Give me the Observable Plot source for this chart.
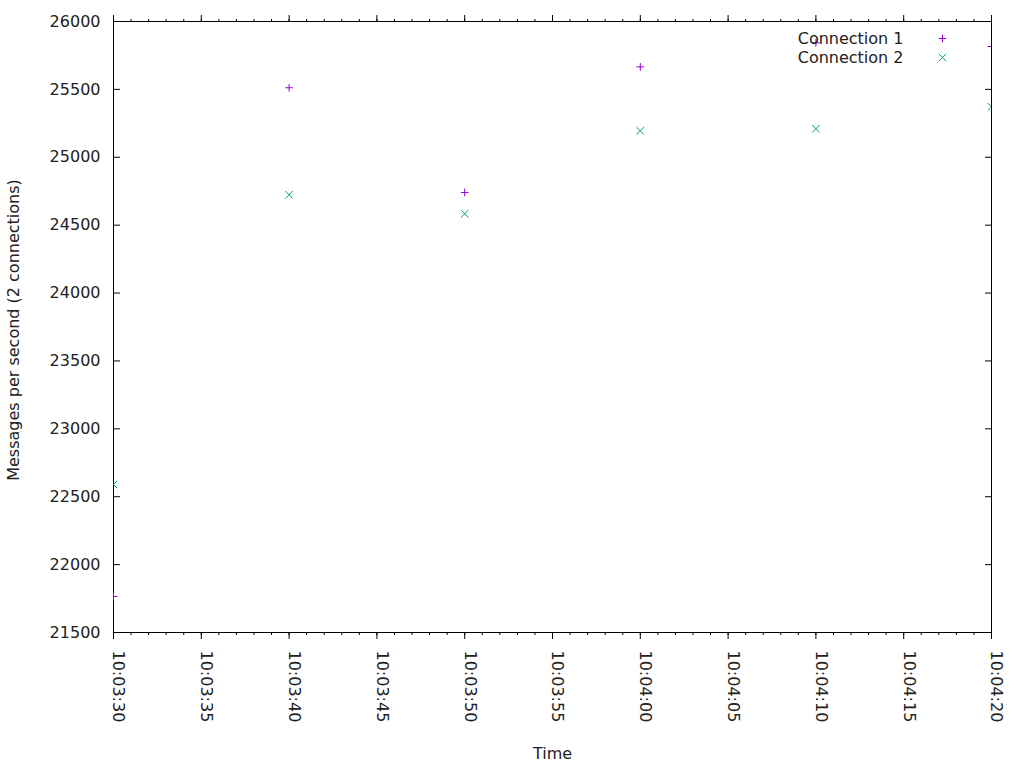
<!DOCTYPE html>
<html>
<head>
<meta charset="utf-8">
<script src="https://cdn.jsdelivr.net/npm/d3@7"></script>
<script src="https://cdn.jsdelivr.net/npm/@observablehq/plot@0.6"></script>
<style>
  html, body { margin: 0; padding: 0; background: #fff; }
  #chart { width: 1024px; height: 768px; }
</style>
</head>
<body>
<div id="chart"></div>
<script>
const times = ["10:03:30", "10:03:40", "10:03:50", "10:04:00", "10:04:10", "10:04:20"];
const conn1 = [21765, 25512, 24741, 25666, 25843, 25816];
const conn2 = [22590, 24724, 24584, 25195, 25210, 25372];
const xTickLabels = ["10:03:30", "10:03:35", "10:03:40", "10:03:45", "10:03:50", "10:03:55",
                     "10:04:00", "10:04:05", "10:04:10", "10:04:15", "10:04:20"];
const yTicks = [21500, 22000, 22500, 23000, 23500, 24000, 24500, 25000, 25500, 26000];
const seriesNames = ["Connection 1", "Connection 2"];
const seriesColors = ["#9400d3", "#009e73"];

const parse = d3.utcParse("%H:%M:%S");
const fmt = d3.utcFormat("%H:%M:%S");
const xTicks = xTickLabels.map(parse);
const minorTicks = d3.utcSecond.range(xTicks[0], d3.utcSecond.offset(xTicks[xTicks.length - 1], 1));
const d1 = times.map((t, i) => ({t: parse(t), v: conn1[i]}));
const d2 = times.map((t, i) => ({t: parse(t), v: conn2[i]}));

const font = "DejaVu Sans";
const chart = Plot.plot({
  width: 1024,
  height: 768,
  marginLeft: 113,
  marginRight: 33,
  marginTop: 21,
  marginBottom: 136,
  style: {fontFamily: font, fontSize: "16px", background: "#fff", color: "#222"},
  x: {type: "utc", domain: [xTicks[0], xTicks[xTicks.length - 1]], label: null},
  y: {domain: [21500, 26000], label: null},
  marks: [
    Plot.frame({stroke: "#000"}),
    // y axis: inward ticks on both sides
    Plot.axisY(yTicks, {anchor: "left", tickSize: -7, text: null, label: null, stroke: "#000"}),
    Plot.axisY(yTicks, {anchor: "right", tickSize: -7, text: null, label: null, stroke: "#000"}),
    Plot.axisY(yTicks, {anchor: "left", tickSize: 0, tickPadding: 13, label: null, tickFormat: d => String(d), fill: "#222"}),
    // x axis: outward ticks bottom and top
    Plot.axisX(minorTicks, {anchor: "bottom", tickSize: 3, text: null, label: null, stroke: "#000"}),
    Plot.axisX(xTicks, {anchor: "bottom", tickSize: 7, text: null, label: null, stroke: "#000"}),
    Plot.axisX(minorTicks, {anchor: "top", tickSize: 3, text: null, label: null, stroke: "#000"}),
    Plot.axisX(xTicks, {anchor: "top", tickSize: 7, text: null, label: null, stroke: "#000"}),
    Plot.axisX(xTicks, {anchor: "bottom", tickSize: 0, tickPadding: 18, tickFormat: fmt,
      rotate: 90, textAnchor: "start", lineAnchor: "middle", dx: 5, label: null, fill: "#222"}),
    // axis titles
    Plot.text(["Time"], {frameAnchor: "bottom", lineAnchor: "middle", dy: 121, fill: "#222"}),
    Plot.text(["Messages per second (2 connections)"], {frameAnchor: "left", textAnchor: "middle", lineAnchor: "middle", rotate: -90, dx: -100, dy: 3, fill: "#222"}),
    // data
    Plot.dot(d1, {x: "t", y: "v", symbol: "plus", stroke: seriesColors[0], fill: "none", r: 2.6, strokeWidth: 1, clip: true}),
    Plot.dot(d2, {x: "t", y: "v", symbol: "times", stroke: seriesColors[1], fill: "none", r: 3.5, strokeWidth: 1, clip: true}),
    // legend
    Plot.text([seriesNames[0]], {frameAnchor: "top-right", textAnchor: "end", lineAnchor: "middle", dx: -88, dy: 17, fill: "#222"}),
    Plot.text([seriesNames[1]], {frameAnchor: "top-right", textAnchor: "end", lineAnchor: "middle", dx: -88, dy: 36, fill: "#222"}),
    Plot.dot([seriesNames[0]], {frameAnchor: "top-right", dx: -49, dy: 17, symbol: "plus", stroke: seriesColors[0], fill: "none", r: 2.6, strokeWidth: 1}),
    Plot.dot([seriesNames[1]], {frameAnchor: "top-right", dx: -49, dy: 36, symbol: "times", stroke: seriesColors[1], fill: "none", r: 3.5, strokeWidth: 1})
  ]
});
document.getElementById("chart").appendChild(chart);
</script>
</body>
</html>
